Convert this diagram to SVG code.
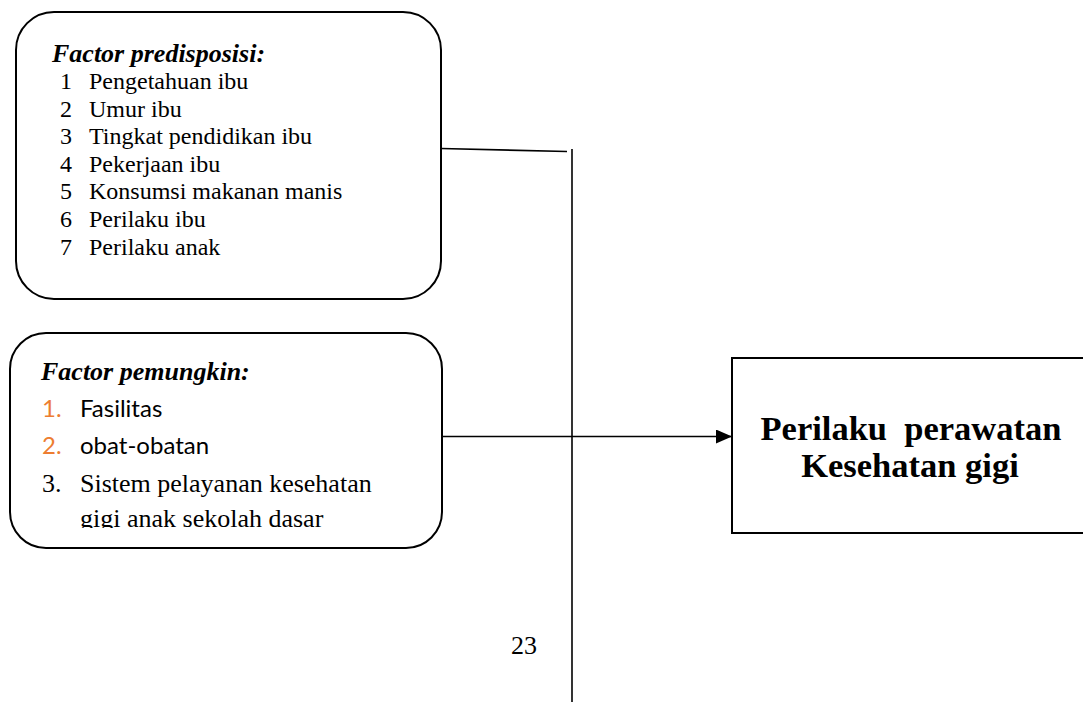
<svg xmlns="http://www.w3.org/2000/svg" width="1083" height="702" viewBox="0 0 1083 702">
<style>
.box{fill:#fff;stroke:#000;stroke-width:2}
.ln{fill:none;stroke:#000;stroke-width:1.6}
.t{font-family:"Liberation Serif","Times New Roman",serif;font-size:24px;fill:#000}
.t2{font-family:"Liberation Serif","Times New Roman",serif;font-size:26px;fill:#000}
.h{font-family:"Liberation Serif","Times New Roman",serif;font-size:26px;font-weight:bold;font-style:italic;fill:#000}
.c{font-family:Lato,"Liberation Sans",sans-serif;font-size:24px;fill:#000}
.o{fill:#ED7D31}
.b{font-family:"Liberation Serif","Times New Roman",serif;font-size:34.5px;font-weight:bold;fill:#000}
</style>
<defs>
<marker id="arr" markerWidth="16" markerHeight="14" refX="15" refY="7" orient="auto" markerUnits="userSpaceOnUse">
<path d="M0,0 L16,7 L0,14 Z" fill="#000"/>
</marker>
<clipPath id="clip2"><rect x="0" y="330" width="460" height="198"/></clipPath>
</defs>
<g id="connectors">
<path class="ln" d="M441,148.5 L567,151.5"/>
<path class="ln" d="M572,149 L572,702"/>
<path class="ln" d="M442,436.5 L731,436.5" marker-end="url(#arr)"/>
</g>
<g id="node-predisposisi">
<rect class="box" x="16" y="12" width="425" height="287" rx="38" ry="38"/>
<text class="h" x="52" y="62">Factor predisposisi:</text>
<text class="t" x="60" y="89">1</text><text class="t" x="89" y="89">Pengetahuan ibu</text>
<text class="t" x="60" y="116.6">2</text><text class="t" x="89" y="116.6">Umur ibu</text>
<text class="t" x="60" y="144.2">3</text><text class="t" x="89" y="144.2">Tingkat pendidikan ibu</text>
<text class="t" x="60" y="171.8">4</text><text class="t" x="89" y="171.8">Pekerjaan ibu</text>
<text class="t" x="60" y="199.4">5</text><text class="t" x="89" y="199.4">Konsumsi makanan manis</text>
<text class="t" x="60" y="227">6</text><text class="t" x="89" y="227">Perilaku ibu</text>
<text class="t" x="60" y="254.6">7</text><text class="t" x="89" y="254.6">Perilaku anak</text>
</g>
<g id="node-pemungkin">
<rect class="box" x="10" y="333" width="432" height="215" rx="36" ry="36"/>
<text class="h" x="41" y="380">Factor pemungkin:</text>
<text class="c o" x="42" y="417">1.</text><text class="c" x="80" y="417">Fasilitas</text>
<text class="c o" x="42" y="454">2.</text><text class="c" x="80" y="454">obat-obatan</text>
<text class="t2" x="42" y="492">3.</text><text class="t2" x="80" y="492">Sistem pelayanan kesehatan</text>
<text class="t2" x="80" y="527" clip-path="url(#clip2)">gigi anak sekolah dasar</text>
</g>
<g id="node-perilaku">
<path class="box" d="M1090,358 L732,358 L732,533 L1090,533"/>
<text class="b" x="911" y="440" text-anchor="middle" xml:space="preserve">Perilaku  perawatan</text>
<text class="b" x="910" y="477" text-anchor="middle">Kesehatan gigi</text>
</g>
<text class="t2" x="511" y="654">23</text>
</svg>
